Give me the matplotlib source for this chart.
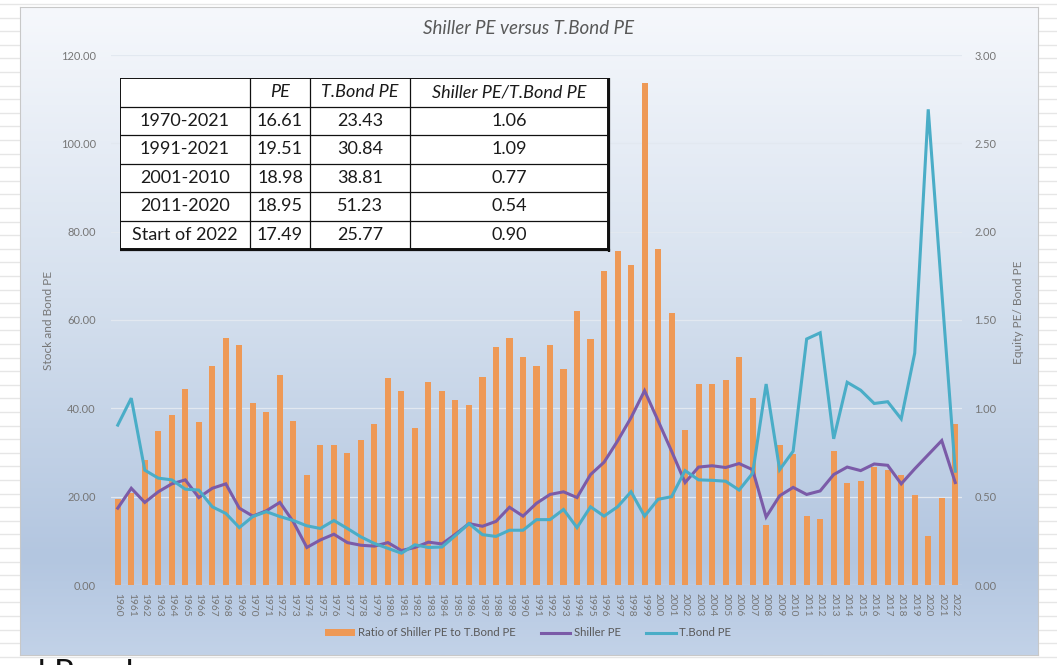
import numpy as np
import matplotlib
matplotlib.use("Agg")
import matplotlib.pyplot as plt
from matplotlib.colors import LinearSegmentedColormap
from matplotlib.patches import Rectangle

# ---------------- data ----------------
years = list(range(1960, 2023))
ratio = [0.485, 0.52, 0.71, 0.87, 0.96, 1.11, 0.92, 1.24, 1.40, 1.36,
         1.03, 0.98, 1.19, 0.93, 0.62, 0.79, 0.79, 0.75, 0.82, 0.91,
         1.17, 1.10, 0.89, 1.15, 1.10, 1.05, 1.02, 1.18, 1.35, 1.40,
         1.29, 1.24, 1.36, 1.22, 1.55, 1.39, 1.78, 1.89, 1.81, 2.84,
         1.90, 1.54, 0.88, 1.14, 1.14, 1.16, 1.29, 1.06, 0.34, 0.79,
         0.74, 0.39, 0.375, 0.76, 0.58, 0.59, 0.67, 0.65, 0.62, 0.51,
         0.275, 0.49, 0.91]
shiller_pe = [17.4, 21.9, 18.7, 21.1, 22.9, 23.8, 19.8, 21.9, 22.9, 17.4,
              15.6, 16.8, 18.7, 14.3, 8.5, 10.2, 11.5, 9.6, 9.0, 8.8,
              9.6, 7.8, 8.5, 9.7, 9.3, 11.5, 13.9, 13.3, 14.4, 17.6,
              15.6, 18.5, 20.5, 21.1, 19.8, 25.0, 27.8, 32.6, 37.9, 44.0,
              37.2, 30.3, 23.2, 26.7, 27.0, 26.6, 27.5, 26.1, 15.4, 20.2,
              22.1, 20.5, 21.3, 25.0, 26.7, 25.9, 27.4, 27.1, 22.9, 26.3,
              29.5, 32.7, 23.2]
tbond_pe = [36.2, 42.3, 26.0, 24.2, 23.8, 21.7, 21.5, 17.7, 16.2, 13.0,
            15.5, 16.6, 15.5, 14.6, 13.4, 12.8, 14.6, 12.8, 10.9, 9.4,
            8.3, 7.2, 9.1, 8.5, 8.6, 11.2, 13.9, 11.4, 11.0, 12.4,
            12.4, 14.8, 14.8, 17.1, 13.0, 17.7, 15.6, 17.7, 21.1, 15.6,
            19.4, 20.0, 25.9, 23.8, 23.7, 23.5, 21.5, 25.3, 45.5, 26.1,
            30.3, 55.7, 57.1, 33.1, 45.9, 44.1, 41.1, 41.5, 37.6, 52.5,
            107.7, 66.5, 25.77]

table_header = ["", "PE", "T.Bond PE", "Shiller PE/T.Bond PE"]
table_periods = ["1970-2021", "1991-2021", "2001-2010", "2011-2020", "Start of 2022"]
table_pe = ["16.61", "19.51", "18.98", "18.95", "17.49"]
table_tbond = ["23.43", "30.84", "38.81", "51.23", "25.77"]
table_ratio = ["1.06", "1.09", "0.77", "0.54", "0.90"]

# ---------------- style ----------------
W, H = 1057, 665
FONT = ["Lato", "DejaVu Sans"]
plt.rcParams["font.family"] = FONT
C_BAR = "#EE9956"
C_SHI = "#7B5BA8"
C_TB = "#4AADC7"
C_TXT = "#595959"
C_TICK = "#767676"

fig = plt.figure(figsize=(W / 100, H / 100), dpi=100)
fig.patch.set_facecolor("white")

def fx(px):
    return px / W

def fy(py):
    return 1 - py / H

# background stripes (worksheet look)
bg = fig.add_axes([0, 0, 1, 1], zorder=-20)
bg.set_xlim(0, W)
bg.set_ylim(H, 0)
bg.axis("off")
for yy in np.arange(4, H, 13.6):
    bg.plot([0, W], [yy, yy], color="#e6e6e6", lw=1.0)

# gradient panel
px0, px1, py0, py1 = 20, 1038, 7, 655
pan = fig.add_axes([fx(px0), fy(py1), fx(px1 - px0), (py1 - py0) / H], zorder=-10)
cmap = LinearSegmentedColormap.from_list(
    "g", [(0.0, "#f6f8fc"), (0.45, "#d5e0ee"), (0.85, "#b3c6e0"), (1.0, "#c2d2e8")])
grad = np.linspace(0, 1, 256).reshape(-1, 1)
pan.imshow(grad, aspect="auto", cmap=cmap, extent=[0, 1, 1, 0])
pan.set_xlim(0, 1)
pan.set_ylim(1, 0)
pan.set_xticks([])
pan.set_yticks([])
for s in pan.spines.values():
    s.set_color("#c8c8c8")
    s.set_linewidth(0.8)

# main axes
ax_l, ax_r, ax_t, ax_b = 111, 962, 55, 585
ax = fig.add_axes([fx(ax_l), fy(ax_b), fx(ax_r - ax_l), (ax_b - ax_t) / H], zorder=2)
axr = ax.twinx()
axr.set_zorder(1)
ax.set_zorder(2)
ax.patch.set_visible(False)
axr.patch.set_visible(False)

x = np.arange(len(years))
for yv in np.arange(0, 3.01, 0.5):
    axr.axhline(yv, color="#e2e8f0", lw=0.9, zorder=0)
axr.bar(x, ratio, width=0.45, color=C_BAR, zorder=2,
        label="Ratio of Shiller PE to T.Bond PE")
ax.plot(x, shiller_pe, color=C_SHI, lw=2.2, label="Shiller PE", zorder=3,
        solid_joinstyle="miter")
ax.plot(x, tbond_pe, color=C_TB, lw=2.2, label="T.Bond PE", zorder=3,
        solid_joinstyle="miter")

ax.set_xlim(-0.5, len(years) - 0.5)
ax.set_ylim(0, 120)
axr.set_ylim(0, 3)
ax.set_yticks(np.arange(0, 121, 20))
ax.set_yticklabels([f"{v:.2f}" for v in np.arange(0, 121, 20)])
axr.set_yticks(np.arange(0, 3.01, 0.5))
axr.set_yticklabels([f"{v:.2f}" for v in np.arange(0, 3.01, 0.5)])
ax.set_xticks(x)
ax.set_xticklabels([str(y) for y in years], rotation=-90)
ax.tick_params(axis="x", length=0, pad=6, labelsize=7.3, labelcolor=C_TICK)
ax.tick_params(axis="y", length=0, pad=11, labelsize=8.0, labelcolor=C_TICK)
axr.tick_params(axis="y", length=0, pad=9, labelsize=8.0, labelcolor=C_TICK)
for a in (ax, axr):
    for s in a.spines.values():
        s.set_visible(False)

fig.text(fx(48), fy(320), "Stock and Bond PE", rotation=90, ha="center",
         va="center", fontsize=8.6, color=C_TICK)
fig.text(fx(1018), fy(312), "Equity PE/ Bond PE", rotation=90, ha="center",
         va="center", fontsize=8.6, color=C_TICK)
fig.text(fx(529), fy(29), "Shiller PE versus T.Bond PE", ha="center",
         va="center", fontsize=13.5, style="italic", color=C_TXT)

# legend
h1, l1 = axr.get_legend_handles_labels()
h2, l2 = ax.get_legend_handles_labels()
fig.legend(h1 + h2, l1 + l2, loc="center", bbox_to_anchor=(fx(528), fy(633)),
           ncol=3, frameon=False, fontsize=8.2, labelcolor=C_TXT,
           handlelength=2.6, handleheight=0.45, columnspacing=2.2,
           handletextpad=0.3)

# table
tx0, tx1, ty0, ty1 = 120, 608, 78, 249
tab = fig.add_axes([fx(tx0), fy(ty1 + 3), fx(tx1 - tx0 + 3), (ty1 + 3 - ty0) / H], zorder=5)
tab.set_xlim(tx0, tx1 + 3)
tab.set_ylim(ty1 + 3, ty0)
tab.axis("off")
cols = [120, 250, 310, 410, 608]
rows = np.linspace(ty0, ty1, 7)
tab.add_patch(Rectangle((tx0, ty0), tx1 - tx0, ty1 - ty0, facecolor="white",
                        edgecolor="none", zorder=1))
for c in cols[1:-1]:
    tab.plot([c, c], [ty0, ty1], color="#111111", lw=0.9, zorder=2)
for r in rows[1:-1]:
    tab.plot([tx0, tx1], [r, r], color="#111111", lw=0.9, zorder=2)
tab.plot([tx0, tx1, tx1, tx0, tx0], [ty0, ty0, ty1, ty1, ty0], color="#111111",
         lw=1.4, zorder=3)
tab.plot([tx1 + 1.2, tx1 + 1.2], [ty0 + 1, ty1 + 1.5], color="#111111", lw=1.6, zorder=3)
tab.plot([tx0 + 1, tx1 + 1.5], [ty1 + 1.2, ty1 + 1.2], color="#111111", lw=1.6, zorder=3)

centers_x = [(cols[i] + cols[i + 1]) / 2 for i in range(4)]
centers_y = [(rows[i] + rows[i + 1]) / 2 for i in range(6)]
for j, txt in enumerate(table_header):
    tab.text(centers_x[j], centers_y[0], txt, ha="center", va="center",
             fontsize=13, style="italic", color="#1a1a1a", zorder=4)
for i in range(5):
    vals = [table_periods[i], table_pe[i], table_tbond[i], table_ratio[i]]
    for j, txt in enumerate(vals):
        tab.text(centers_x[j], centers_y[i + 1], txt, ha="center", va="center",
                 fontsize=13, color="#1a1a1a", zorder=4)

# partially visible text at bottom-left (cut by the image edge, as in the source)
fig.text(fx(27), fy(659), "d Resul", ha="left", va="top", fontsize=24,
         color="#111111")

fig.savefig("out.png", dpi=100)
